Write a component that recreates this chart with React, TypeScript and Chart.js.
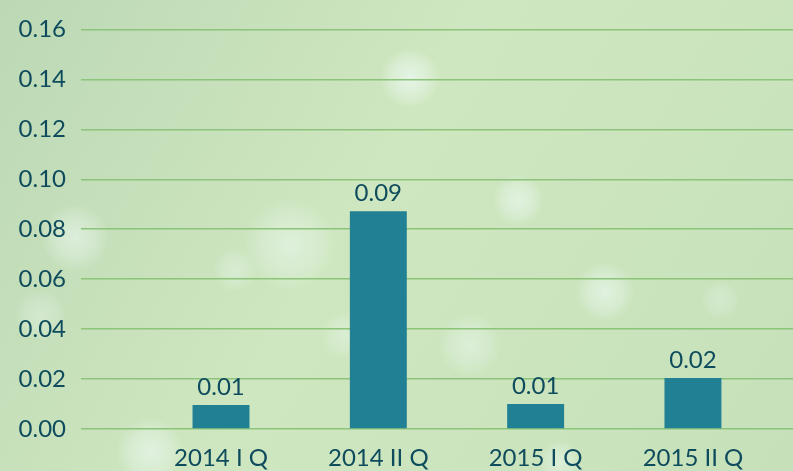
import React, { useEffect, useRef } from "react";
import { Chart, registerables } from "chart.js";

Chart.register(...registerables);

const categories = ["2014 I Q", "2014 II Q", "2015 I Q", "2015 II Q"];
const values = [0.0096, 0.0872, 0.01, 0.0204];
const yTicks = [0, 0.02, 0.04, 0.06, 0.08, 0.1, 0.12, 0.14, 0.16];

const TEXT = "#0e4b5c";
const BAR = "#218094";
const GRID = "#8cc47a";
const FONT = "Lato";

const bubbles: [number, number, number, number][] = [
  [75, 238, 34, 0.55],
  [290, 245, 46, 0.5],
  [410, 78, 30, 0.7],
  [518, 200, 26, 0.6],
  [470, 345, 32, 0.45],
  [605, 292, 30, 0.6],
  [150, 452, 34, 0.6],
  [345, 335, 24, 0.35],
  [560, 462, 22, 0.5],
  [235, 270, 22, 0.35],
  [40, 315, 26, 0.35],
  [720, 300, 20, 0.3],
];

const bgPlugin = {
  id: "bg",
  beforeDraw(chart: any) {
    const { ctx, width, height } = chart;
    ctx.save();
    const g = ctx.createLinearGradient(0, 0, width, height);
    g.addColorStop(0, "#bcd8b5");
    g.addColorStop(0.45, "#cfe7c0");
    g.addColorStop(1, "#c6e1ba");
    ctx.fillStyle = g;
    ctx.fillRect(0, 0, width, height);
    for (const [x, y, r, a] of bubbles) {
      const rg = ctx.createRadialGradient(x, y, 0, x, y, r);
      rg.addColorStop(0, `rgba(240,250,248,${a})`);
      rg.addColorStop(0.6, `rgba(235,248,240,${a * 0.6})`);
      rg.addColorStop(1, "rgba(235,248,240,0)");
      ctx.fillStyle = rg;
      ctx.beginPath();
      ctx.arc(x, y, r, 0, Math.PI * 2);
      ctx.fill();
    }
    ctx.restore();
  },
};

const labelPlugin = {
  id: "valueLabels",
  afterDatasetsDraw(chart: any) {
    const { ctx } = chart;
    const meta = chart.getDatasetMeta(0);
    ctx.save();
    ctx.fillStyle = TEXT;
    ctx.font = `24px ${FONT}`;
    ctx.textAlign = "center";
    ctx.textBaseline = "alphabetic";
    meta.data.forEach((bar: any, i: number) => {
      ctx.fillText(values[i].toFixed(2), bar.x, bar.y - 10);
    });
    ctx.restore();
  },
};

export default function App() {
  const ref = useRef<HTMLCanvasElement>(null);
  useEffect(() => {
    const chart = new Chart(ref.current!, {
      type: "bar",
      data: {
        datasets: [
          {
            data: values.map((y, i) => ({ x: i, y })),
            backgroundColor: BAR,
            categoryPercentage: 1,
            barPercentage: 0.362,
          },
        ],
      },
      options: {
        animation: false,
        responsive: false,
        maintainAspectRatio: false,
        layout: { padding: { top: 29, left: 0, right: 0, bottom: 0 } },
        plugins: { legend: { display: false }, tooltip: { enabled: false } },
        scales: {
          x: {
            type: "linear",
            offset: false,
            min: -0.89,
            max: 3.636,
            grid: { display: false },
            border: { display: false },
            afterBuildTicks: (scale: any) => {
              scale.ticks = categories.map((_, i) => ({ value: i }));
            },
            afterFit: (scale: any) => {
              scale.height = 42;
            },
            ticks: {
              color: TEXT,
              font: { family: FONT, size: 24 },
              padding: 7,
              maxRotation: 0,
              autoSkip: false,
              callback: (v: any) => categories[v] ?? "",
            },
          },
          y: {
            min: 0,
            max: 0.16,
            afterBuildTicks: (scale: any) => {
              scale.ticks = yTicks.map((v) => ({ value: v }));
            },
            afterFit: (scale: any) => {
              scale.width = 81;
            },
            grid: { color: GRID, lineWidth: 1.5, drawTicks: false },
            border: { display: false },
            ticks: {
              color: TEXT,
              font: { family: FONT, size: 24 },
              padding: 15,
              callback: (v: any) => Number(v).toFixed(2),
            },
          },
        },
      },
      plugins: [bgPlugin, labelPlugin],
    });
    return () => chart.destroy();
  }, []);
  return (
    <div style={{ position: "fixed", left: 0, top: 0, width: 793, height: 471 }}>
      <canvas ref={ref} width={793} height={471} style={{ display: "block" }} />
    </div>
  );
}
